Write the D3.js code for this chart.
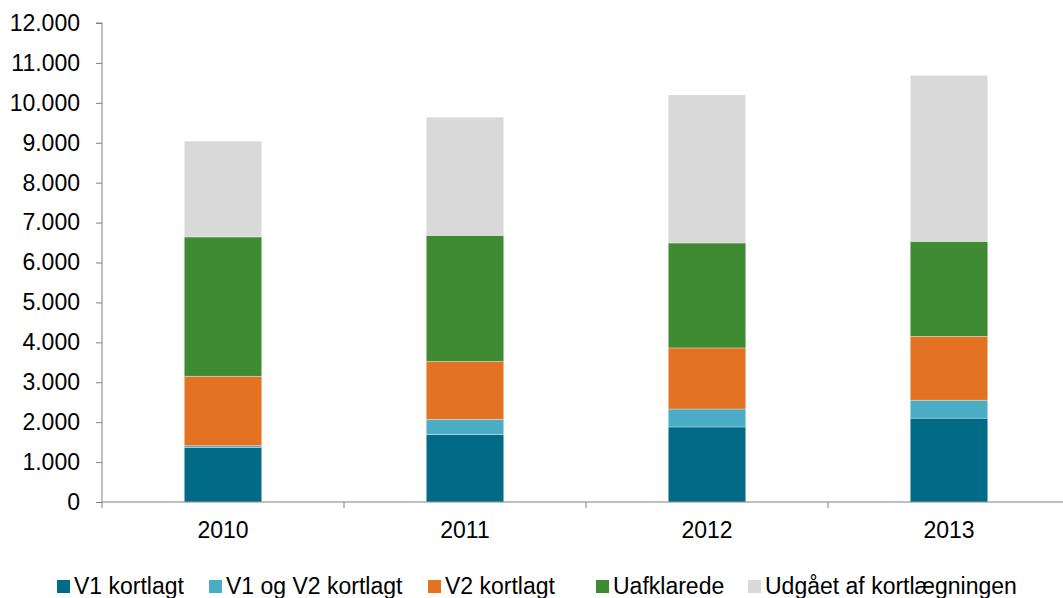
<!DOCTYPE html>
<html>
<head>
<meta charset="utf-8">
<script src="https://cdn.jsdelivr.net/npm/d3@7"></script>
<style>
  body { margin: 0; background: #fff; }
  text { font-family: "Liberation Sans", Arial, sans-serif; fill: #000; }
</style>
</head>
<body>
<svg id="chart" width="1063" height="598"></svg>
<script>
// data
const years = ['2010', '2011', '2012', '2013'];
const seriesNames = ['V1 kortlagt', 'V1 og V2 kortlagt', 'V2 kortlagt', 'Uafklarede', 'Udgået af kortlægningen'];
const v1 = [1370, 1690, 1880, 2100];
const v1v2 = [40, 380, 450, 450];
const v2 = [1740, 1450, 1530, 1600];
const uafklarede = [3490, 3160, 2630, 2380];
const udgaaet = [2400, 2960, 3710, 4160];
const yTicks = [0, 1000, 2000, 3000, 4000, 5000, 6000, 7000, 8000, 9000, 10000, 11000, 12000];
const colors = ['#006a87', '#4bacc6', '#e37222', '#3f8b32', '#d9d9d9'];

const rows = years.map((y, i) => ({
  year: y,
  [seriesNames[0]]: v1[i],
  [seriesNames[1]]: v1v2[i],
  [seriesNames[2]]: v2[i],
  [seriesNames[3]]: uafklarede[i],
  [seriesNames[4]]: udgaaet[i]
}));

const svg = d3.select('#chart');
const plotLeft = 102, plotRight = 1070, plotTop = 23, plotBottom = 502;

const x = d3.scaleBand().domain(years).range([plotLeft, plotRight]).paddingInner(0.68).paddingOuter(0.34);
const y = d3.scaleLinear().domain([0, 12000]).range([plotBottom, plotTop]);
const color = d3.scaleOrdinal().domain(seriesNames).range(colors);

const stacked = d3.stack().keys(seriesNames)(rows);
const fmt = d => d3.format(',')(d).replace(/,/g, '.');

// bars
svg.append('g').selectAll('g')
  .data(stacked)
  .join('g')
  .attr('fill', d => color(d.key))
  .selectAll('rect')
  .data(d => d)
  .join('rect')
  .attr('x', d => x(d.data.year))
  .attr('width', x.bandwidth())
  .attr('y', d => y(d[1]))
  .attr('height', d => y(d[0]) - y(d[1]))
  .attr('stroke', 'rgba(255,255,255,0.45)')
  .attr('stroke-width', 0.7);

// y axis
const yAxis = svg.append('g')
  .attr('transform', `translate(${plotLeft},0)`)
  .call(d3.axisLeft(y).tickValues(yTicks).tickFormat(fmt).tickSize(6).tickPadding(16));
yAxis.attr('font-size', null).attr('font-family', null);
yAxis.select('.domain').attr('stroke', '#808080').attr('d', `M-6,${plotTop}H0V${plotBottom}`);
yAxis.selectAll('.tick line').attr('stroke', '#808080');
yAxis.selectAll('.tick text').style('font-size', '23px').attr('fill', '#000');

// x axis with ticks between categories
const bandStep = x.step();
const xBoundaries = d3.range(years.length + 1).map(i => plotLeft + i * bandStep);
const xAxisG = svg.append('g');
xAxisG.append('line')
  .attr('x1', plotLeft).attr('x2', 1063)
  .attr('y1', plotBottom).attr('y2', plotBottom)
  .attr('stroke', '#808080');
xAxisG.selectAll('line.tk')
  .data(xBoundaries.filter(v => v < 1063))
  .join('line')
  .attr('class', 'tk')
  .attr('x1', d => d).attr('x2', d => d)
  .attr('y1', plotBottom).attr('y2', plotBottom + 6)
  .attr('stroke', '#808080');
xAxisG.selectAll('text')
  .data(years)
  .join('text')
  .attr('x', d => x(d) + x.bandwidth() / 2)
  .attr('y', 538)
  .attr('text-anchor', 'middle')
  .style('font-size', '23px')
  .text(d => d);

// legend
const legendX = [57, 209, 428, 596, 748];
const legend = svg.append('g').selectAll('g')
  .data(seriesNames)
  .join('g')
  .attr('transform', (d, i) => `translate(${legendX[i]},580)`);
legend.append('rect')
  .attr('width', 13).attr('height', 13)
  .attr('fill', d => color(d));
legend.append('text')
  .attr('x', 17).attr('y', 14)
  .style('font-size', '23px')
  .text(d => d);
</script>
</body>
</html>
